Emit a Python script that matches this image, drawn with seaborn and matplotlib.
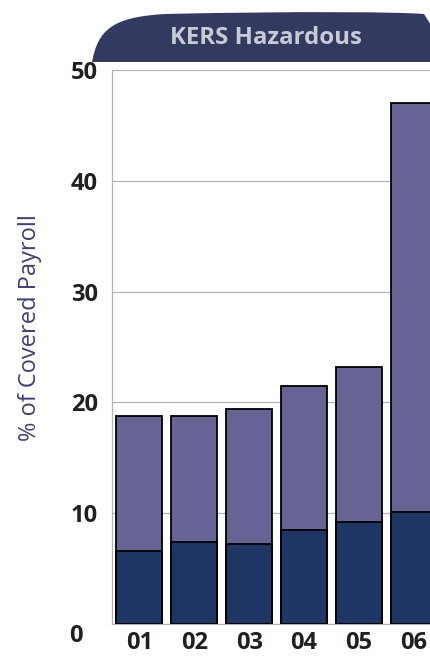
import matplotlib
matplotlib.use("Agg")
import matplotlib.pyplot as plt
from matplotlib.path import Path
from matplotlib.patches import PathPatch
import seaborn as sns
import pandas as pd

# data
years = ["01", "02", "03", "04", "05", "06"]
total_rate = [18.8, 18.8, 19.4, 21.5, 23.2, 47.0]
base_rate = [6.6, 7.4, 7.2, 8.5, 9.25, 10.15]
y_ticks = [0, 10, 20, 30, 40, 50]

TOP_COLOR = "#666494"
BASE_COLOR = "#1f3563"
BANNER_COLOR = "#333a60"
GRID_COLOR = "#b4b4b4"
TEXT_COLOR = "#231f20"

sns.set_theme(style="white")
plt.rcParams["font.family"] = ["Open Sans", "DejaVu Sans"]

df = pd.DataFrame({"year": years, "total": total_rate, "base": base_rate})

W, H = 430, 656
fig = plt.figure(figsize=(W / 100, H / 100), dpi=100)
ax = fig.add_axes([112 / W, 1 - 624 / H, 1 - 112 / W + 0.002, (624 - 70) / H])

sns.barplot(data=df, x="year", y="total", color=TOP_COLOR, width=0.84,
            edgecolor="black", linewidth=1.3, saturation=1, ax=ax, zorder=3)
sns.barplot(data=df, x="year", y="base", color=BASE_COLOR, width=0.84,
            edgecolor="black", linewidth=1.3, saturation=1, ax=ax, zorder=4)

ax.set_xlim(-0.47, 5.31)
ax.set_ylim(0, 50)
ax.set_yticks(y_ticks)
ax.set_yticklabels([""] + [str(v) for v in y_ticks[1:]])
ax.grid(axis="y", color=GRID_COLOR, linewidth=0.9, zorder=0)
ax.set_axisbelow(True)
ax.set_xlabel("")
ax.set_ylabel("")

for side in ["top", "right"]:
    ax.spines[side].set_visible(False)
for side in ["left", "bottom"]:
    ax.spines[side].set_color(GRID_COLOR)
    ax.spines[side].set_linewidth(0.9)

ax.tick_params(axis="y", length=3, width=0.9, color=GRID_COLOR, pad=7,
               labelsize=17, labelcolor=TEXT_COLOR)
ax.tick_params(axis="x", length=0, pad=5, labelsize=17, labelcolor=TEXT_COLOR)
for lbl in ax.get_yticklabels() + ax.get_xticklabels():
    lbl.set_fontweight("bold")

# small ticks between the bars
ax.set_xticks([i - 0.5 for i in range(len(years))], minor=True)
ax.tick_params(axis="x", which="minor", length=3, width=0.9, color=GRID_COLOR)

# "0" label sits a bit below and left of the baseline in the original
ax.annotate("0", xy=(0, 0), xycoords=("axes fraction", "data"),
            xytext=(-21, -9), textcoords="offset points",
            ha="right", va="center", fontsize=17, fontweight="bold", color=TEXT_COLOR)

fig.text(30 / W, 1 - 328 / H, "% of Covered Payroll", rotation=90,
         ha="center", va="center", fontsize=17, color="#3d4270")

# banner tab
over = fig.add_axes([0, 0, 1, 1], zorder=-1)
over.set_xlim(0, W)
over.set_ylim(H, 0)
over.axis("off")
verts = [(92, 62), (98, 30), (112, 17), (165, 14), (300, 11), (400, 12),
         (424, 14), (434, 30), (434, 62), (92, 62)]
codes = [Path.MOVETO, Path.CURVE4, Path.CURVE4, Path.CURVE4,
         Path.CURVE4, Path.CURVE4, Path.CURVE4,
         Path.LINETO, Path.LINETO, Path.CLOSEPOLY]
over.add_patch(PathPatch(Path(verts, codes), facecolor=BANNER_COLOR, edgecolor="none"))
over.text(266, 38, "KERS Hazardous", ha="center", va="center",
          fontsize=17.3, fontweight="bold", color="#c8cad6")

fig.savefig("out.png", dpi=100)
